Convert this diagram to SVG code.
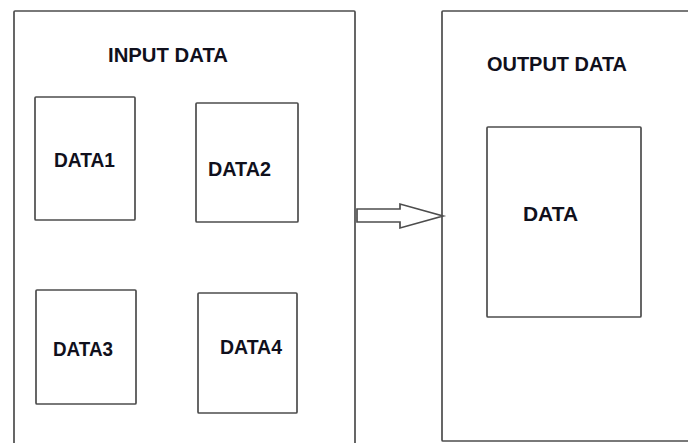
<svg xmlns="http://www.w3.org/2000/svg" width="688" height="443" viewBox="0 0 688 443">
<style>
.box{fill:#fff;stroke:#4d4d4d;stroke-width:1.7}
.lbl{font-family:"Liberation Sans",Arial,sans-serif;font-weight:bold;font-size:20px;fill:#10101c}
</style>
<rect x="0" y="0" width="688" height="443" fill="#fff"/>
<g id="input-data">
<rect class="box" x="14" y="11" width="341" height="440" rx="1"/>
<text class="lbl" x="108" y="62" textLength="120" lengthAdjust="spacingAndGlyphs">INPUT DATA</text>
</g>
<g id="output-data">
<rect class="box" x="442" y="11" width="260" height="430" rx="1"/>
<text class="lbl" x="487" y="71" textLength="140" lengthAdjust="spacingAndGlyphs">OUTPUT DATA</text>
</g>
<g id="data1">
<rect class="box" x="35" y="97" width="100" height="123" rx="1"/>
<text class="lbl" x="54" y="167" textLength="61" lengthAdjust="spacingAndGlyphs">DATA1</text>
</g>
<g id="data2">
<rect class="box" x="196" y="103" width="102" height="119" rx="1"/>
<text class="lbl" x="208" y="176" textLength="63" lengthAdjust="spacingAndGlyphs">DATA2</text>
</g>
<g id="data3">
<rect class="box" x="36" y="290" width="100" height="114" rx="1"/>
<text class="lbl" x="53" y="356" textLength="60" lengthAdjust="spacingAndGlyphs">DATA3</text>
</g>
<g id="data4">
<rect class="box" x="198" y="293" width="99" height="120" rx="1"/>
<text class="lbl" x="220" y="354" textLength="62" lengthAdjust="spacingAndGlyphs">DATA4</text>
</g>
<g id="data">
<rect class="box" x="487" y="127" width="154" height="190" rx="1"/>
<text class="lbl" x="523" y="221" textLength="55" lengthAdjust="spacingAndGlyphs">DATA</text>
</g>
<g id="connectors">
<path d="M357,209 L400,209 L400,204 L443,216 L400,228 L400,222 L357,222 Z" fill="#fff" stroke="#4d4d4d" stroke-width="1.7" stroke-linejoin="miter"/>
</g>
</svg>
